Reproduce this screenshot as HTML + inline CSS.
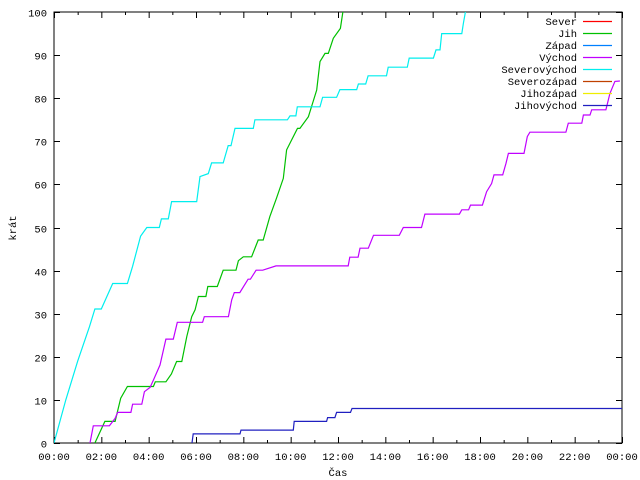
<!DOCTYPE html>
<html><head><meta charset="utf-8"><style>
body{margin:0;background:#fff}
svg{display:block;font-family:"Liberation Mono","DejaVu Sans Mono",monospace;font-size:10.5px}
</style></head><body>
<svg id="c" width="640" height="480">
<defs><clipPath id="pc"><rect x="54" y="12" width="568" height="431"/></clipPath></defs>
<g id="grid"></g>
<g id="series" clip-path="url(#pc)"></g>
<g id="legend"></g>
<text x="338" y="476" text-anchor="middle">Čas</text>
<text x="16" y="228" text-anchor="middle" transform="rotate(-90 16 228)">krát</text>
</svg>
<script>
const xTicks=["00:00","02:00","04:00","06:00","08:00","10:00","12:00","14:00","16:00","18:00","20:00","22:00","00:00"];
const yTicks=[0,10,20,30,40,50,60,70,80,90,100];
const legendNames=["Sever","Jih","Západ","Východ","Severovýchod","Severozápad","Jihozápad","Jihovýchod"];
const legendColors=["#ff0000","#00c000","#0080ff","#c000ff","#00eeee","#c04000","#eeee00","#2020c0"];
const jihH=[1.73,2.15,2.58,2.82,3.1,4.2,4.28,4.73,4.96,5.18,5.4,5.61,5.82,5.96,6.1,6.42,6.5,6.9,7.15,7.69,7.79,8.0,8.35,8.63,8.84,9.12,9.4,9.69,9.83,10.04,10.29,10.39,10.75,11.1,11.24,11.45,11.59,11.8,12.1,12.22];
const jihV=[0,5,5,10.4,13.1,13.1,14.2,14.2,16,18.9,18.9,24.7,29.3,30.9,34,34,36.3,36.3,40.1,40.1,42.3,43.2,43.2,47.1,47.1,52.5,56.8,61.4,68,70.3,73,73,75.7,81.9,88.5,90.4,90.4,93.9,96.2,100.5];
const zapH=[5.83,5.88,7.86,7.9,10.11,10.15,11.52,11.56,11.87,11.94,12.53,12.59,24];
const zapV=[0,2.1,2.1,3,3,5,5,5.9,5.9,7.1,7.1,8,8];
const vycH=[1.52,1.66,2.34,2.58,2.69,3.25,3.32,3.71,3.82,4.06,4.2,4.48,4.73,5.04,5.21,6.28,6.35,7.37,7.51,7.62,7.85,8.2,8.3,8.54,8.82,9.38,9.44,12.43,12.5,12.85,12.93,13.28,13.5,14.59,14.76,15.53,15.67,17.13,17.23,17.52,17.6,18.1,18.28,18.49,18.59,18.96,19.1,19.2,19.86,20.0,20.11,21.63,21.73,22.3,22.37,22.65,22.72,23.32,23.49,23.7,23.91];
const vycV=[0,4,4,5.7,7.1,7.1,9,9,11.9,12.9,14.6,18.1,24.1,24.1,28,28,29.3,29.3,33.2,34.9,34.9,38,38,40.1,40.1,41.1,41.1,41.1,43.1,43.1,45.2,45.2,48.2,48.2,50,50,53.1,53.1,54.1,54.1,55.2,55.2,58.3,60.2,62.2,62.2,64.9,67.2,67.2,71.1,72.1,72.1,74.2,74.2,76.1,76.1,77.3,77.3,81.1,83.9,84];
const svH=[0,0.5,1.0,1.5,1.73,2.0,2.48,3.1,3.32,3.66,3.92,4.45,4.54,4.83,4.97,6.03,6.17,6.52,6.66,7.15,7.36,7.48,7.65,8.42,8.49,9.86,9.97,10.22,10.28,11.24,11.35,11.94,12.08,12.79,12.86,13.17,13.27,14.05,14.12,14.93,15.01,16.03,16.14,16.31,16.38,17.23,17.3,17.4];
const svV=[0,10,19,27,31.1,31.1,37,37,41,48,50,50,52,52,56,56,61.8,62.5,65,65,69,69,73,73,75,75,75.9,75.9,78,78,80.2,80.2,82,82,83.3,83.3,85.2,85.2,87.2,87.2,89.3,89.3,91.2,91.2,95,95,97.4,100.5];
const X0=54,X1=622,Y0=443,Y1=12;
const sx=h=>X0+(X1-X0)*h/24;
const sy=v=>Y0-(Y0-Y1)*v/100;
const NS="http://www.w3.org/2000/svg";
function mk(t,a,p){const e=document.createElementNS(NS,t);for(const k in a)e.setAttribute(k,a[k]);p.appendChild(e);return e;}
const g=document.getElementById('grid');
const frame=mk('rect',{x:X0,y:Y1,width:X1-X0,height:Y0-Y1,fill:'none',stroke:'#000','stroke-width':1},g);


for(let h=0;h<=24;h++){
  const x=sx(h)+0.5;
  const len=h%2===0?6:3;
  const t1=mk('line',{x1:x,x2:x,y1:Y0,y2:Y0-len,stroke:'#000'},g);
  
  
  const t2=mk('line',{x1:x,x2:x,y1:Y1,y2:Y1+len,stroke:'#000'},g);
  
  
}
xTicks.forEach((l,i)=>{
  const t=mk('text',{x:sx(i*2),y:Y0+17,'text-anchor':'middle'},g);
  t.textContent=l;
  
  
});
yTicks.forEach(v=>{
  const y=Math.round(sy(v))+0.5;
  const a=mk('line',{x1:X0,x2:X0+6,y1:y,y2:y,stroke:'#000'},g);
  
  
  const b=mk('line',{x1:X1-6,x2:X1,y1:y,y2:y,stroke:'#000'},g);
  
  
  const t=mk('text',{x:X0-7,y:y+4,'text-anchor':'end'},g);
  t.textContent=v;
  
  
});
const s=document.getElementById('series');
function draw(H,V,color,name){
  const pts=H.map((h,i)=>sx(h).toFixed(1)+','+sy(V[i]).toFixed(1)).join(' ');
  const p=mk('polyline',{points:pts,fill:'none',stroke:color,'stroke-width':1.2},s);
  
  
}
draw(jihH,jihV,legendColors[1],'series-jih');
draw(zapH,zapV,legendColors[7],'series-zapad');
draw(vycH,vycV,legendColors[3],'series-vychod');
draw(svH,svV,legendColors[4],'series-severovychod');
const lg=document.getElementById('legend');
legendNames.forEach((n,i)=>{
  const y=21+i*12;
  const t=mk('text',{x:577,y:y+4,'text-anchor':'end'},lg);
  t.textContent=n;
  
  
  const l=mk('line',{x1:583,x2:612,y1:y+0.5,y2:y+0.5,stroke:legendColors[i],'stroke-width':1.2},lg);
  
  
});
</script>
</body></html>
